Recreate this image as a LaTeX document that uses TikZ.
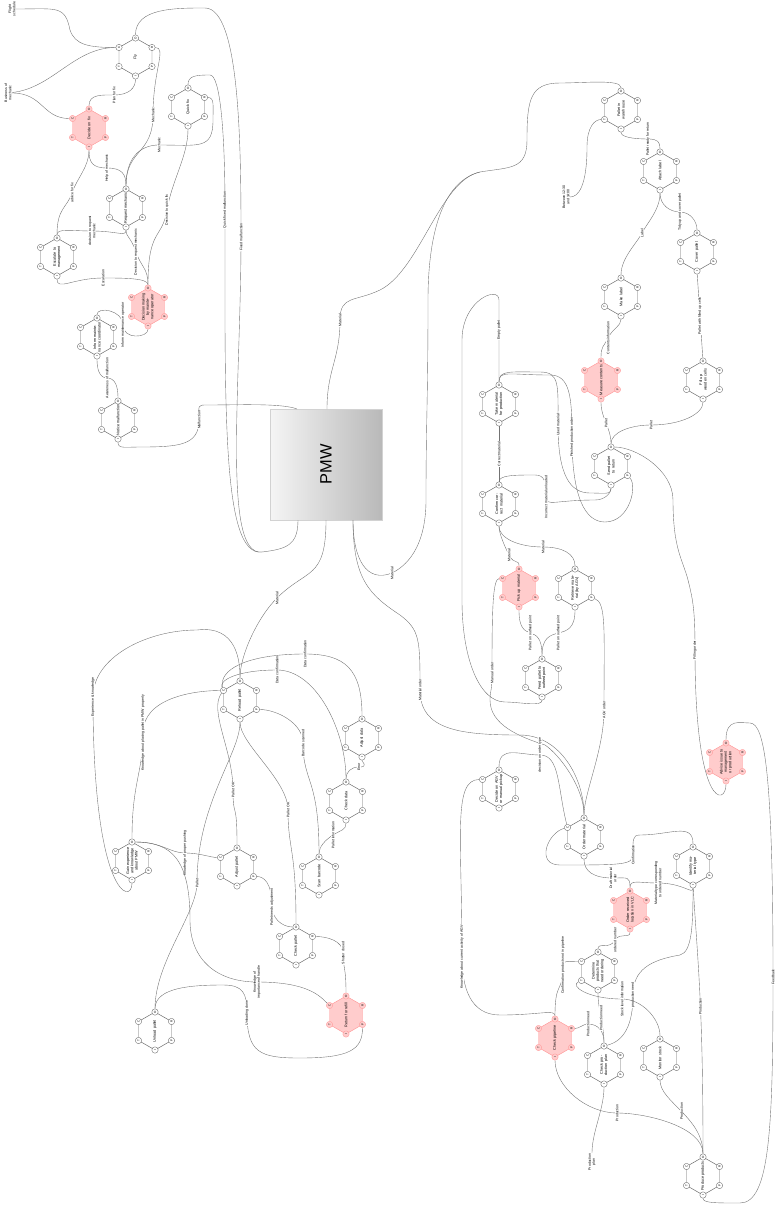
\documentclass[tikz,border=0pt]{standalone}
\usepackage{fontspec}
\setmainfont{Liberation Sans}
\usetikzlibrary{calc}

% one FRAM function: name, x, y, look, text
\newcommand{\fram}[5]{%
  \begin{scope}[shift={(#2,#3)}]
    \draw[#4, line width=0.4pt] (0,-19) -- (16.5,-9.5) -- (16.5,9.5) -- (0,19) -- (-16.5,9.5) -- (-16.5,-9.5) -- cycle;
    \node[fntxt] (#1) at (0,0) {#5};
    \node[asp,#4] (#1-O) at (0,-19) {O};
    \node[asp,#4] (#1-I) at (0,19) {I};
    \node[asp,#4] (#1-C) at (-16.5,-9.5) {C};
    \node[asp,#4] (#1-T) at (-16.5,9.5) {T};
    \node[asp,#4] (#1-R) at (16.5,-9.5) {R};
    \node[asp,#4] (#1-P) at (16.5,9.5) {P};
  \end{scope}}

\begin{document}
\begin{tikzpicture}[x=0.03cm, y=-0.03cm,
    plain/.style={draw=gray!80!black, fill=white},
    crit/.style={draw=red!40, fill=red!20},
    asp/.style={circle, line width=0.3pt, inner sep=0pt, minimum size=0.19cm, rotate=90, font=\fontsize{2.6}{2.8}\selectfont},
    fntxt/.style={rotate=90, align=center, text width=0.95cm, inner sep=0pt, font=\fontsize{3.2}{3.7}\selectfont},
    lab/.style={rotate=90, fill=white, inner sep=0.4pt, align=center, font=\fontsize{3}{3.5}\selectfont},
    freetxt/.style={rotate=90, inner sep=0.5pt, align=center, font=\fontsize{3}{3.5}\selectfont},
    flow/.style={draw=black!55, line width=0.33pt},
    pmw/.style={draw=gray!35, left color=gray!8, right color=gray!55, minimum width=3.36cm, minimum height=3.33cm}
  ]
  \useasboundingbox (0,0) rectangle (779,1207);

  \node[pmw] (pmw) at (326,464.5) {};
  \node[rotate=90, font=\fontsize{14}{16}\selectfont] at (pmw) {PMW};
  \coordinate (pmw-t1) at (297,409);
  \coordinate (pmw-t2) at (327,409);
  \coordinate (pmw-b1) at (298,520);
  \coordinate (pmw-b2) at (326,520);
  \coordinate (pmw-b3) at (353,520);

  % maintenance
  \fram{fly}{135.5}{57}{plain}{Fly}
  \fram{decide}{89}{128}{crit}{Decide on fix}
  \fram{quick}{188}{107}{plain}{Quick fix}
  \fram{request}{126}{208}{plain}{Request mechanic}
  \fram{escalate}{57}{257}{plain}{Escalate to management}
  \fram{decision}{148}{307}{crit}{Decision making by maintenance operator}
  \fram{inform}{97}{337}{plain}{Inform maintenance coordinator}
  \fram{notice}{118}{420}{plain}{Notice malfunction}

  % pallets back to the warehouse
  \fram{warehouse}{621}{110}{plain}{Pallet in warehouse}
  \fram{attach}{660}{171}{plain}{Attach label}
  \fram{cover}{697}{252}{plain}{Cover pallet}
  \fram{makelbl}{621}{297}{plain}{Make label}
  \fram{measure}{601}{380}{crit}{Measure contents}
  \fram{fillup}{703}{380}{plain}{Fill up wooden cells}
  \fram{rawmat}{499}{404}{plain}{Take material for production}
  \fram{sendpal}{611}{466}{plain}{Send pallet to return}
  \fram{confirm}{499}{504}{plain}{Confirm correct material}
  \fram{pickup}{519}{588}{crit}{Pick up material}
  \fram{retrieve}{575}{588}{plain}{Retrieve material (by AGV)}
  \fram{feed}{542}{678}{plain}{Feed pallet to outfeed point}
  \fram{advise}{726}{762}{crit}{Advise issue to management or production}

  % ordering
  \fram{decideagv}{499}{789}{plain}{Decide on AGV or manual pickup}
  \fram{order}{584}{837}{plain}{Order material}
  \fram{identify}{693}{866}{plain}{Identify material type}
  \fram{received}{630}{910}{crit}{Order received location in VLC}
  \fram{determine}{598}{971}{plain}{Determine products that need ordering}
  \fram{pipeline}{555}{1038}{crit}{Check pipeline}
  \fram{prodplan}{604}{1065}{plain}{Check production plan}
  \fram{stock}{660}{1058}{plain}{Monitor stock}
  \fram{produce}{703}{1176}{plain}{Produce products}

  % loading the PMW
  \fram{reload}{240}{700}{plain}{Reload pallet}
  \fram{adjdata}{362}{738}{plain}{Adjust data}
  \fram{chkdata}{346}{801}{plain}{Check data}
  \fram{gain}{132}{861}{plain}{Gain experience and knowledge about PMW}
  \fram{adjpal}{237}{867}{plain}{Adjust pallet}
  \fram{scan}{319}{876}{plain}{Scan barcode}
  \fram{chkpal}{296}{946}{plain}{Check pallet}
  \fram{unload}{155}{1031}{plain}{Unload pallet}
  \fram{return}{346}{1015}{crit}{Return for refill}

  % free ends
  \node[freetxt] (pilot) at (12,9) {Flight\\schedule};
  \node[freetxt] (business) at (8,93) {Business of\\mechanic};
  \node[freetxt] (between) at (566,197) {Between 12:30\\and 14:00};
  \node[freetxt] (plantxt) at (592,1162) {Production\\plan};
  \coordinate (bend) at (480,172);

  % maintenance links
  \draw[flow] (pilot) .. controls +(45,0) and +(-5,-25) .. (70,30) .. controls +(5,15) and +(-30,0) .. (fly-C);
  \draw[flow] (business) .. controls +(45,-5) and +(-45,0) .. (fly-C);
  \draw[flow] (business) .. controls +(35,0) and +(-30,0) .. (decide-C);
  \draw[flow] (decide-O) .. controls +(0,-15) and +(-12,0) .. (114,95) node[lab]{Plan for fix} .. controls +(15,0) and +(0,12) .. (fly-I);
  \draw[flow] (fly-O) .. controls +(0,-30) and +(-30,0) .. (205,8) .. controls +(35,0) and +(0,-90) .. (241,237) node[lab]{Fixed malfunction} .. controls +(0,150) and +(-40,5) .. (262,552) .. controls +(25,-3) and +(0,25) .. (pmw-b1);
  \draw[flow] (quick-O) .. controls +(0,-12) and +(-15,0) .. (210,75) .. controls +(10,0) and +(0,-80) .. (225,210) node[lab]{Quick fixed malfunction} .. controls +(0,200) and +(-40,5) .. (262,552);
  \draw[flow] (pmw-t1) .. controls +(-15,-6) and +(30,0) .. (207,405) .. controls +(-10,0) and +(0,-15) .. (199,420) node[lab]{Malfunction} .. controls +(0,25) and +(40,0) .. (140,447) .. controls +(-15,0) and +(0,10) .. (notice-I);
  \draw[flow] (request-O) .. controls +(0,-40) and +(0,40) .. (153,115) node[lab]{Mechanic} .. controls +(0,-45) and +(15,0) .. (fly-R);
  \draw[flow] (request-O) .. controls +(0,-30) and +(-20,0) .. (159,145) node[lab]{Mechanic} .. controls +(40,0) and +(0,30) .. (213,120) .. controls +(0,-15) and +(10,0) .. (quick-R);
  \draw[flow] (request-O) .. controls +(0,-15) and +(15,0) .. (107,168) node[lab]{Help of mechanic} .. controls +(-15,0) and +(0,15) .. (decide-I);
  \draw[flow] (escalate-O) .. controls +(0,-30) and +(-5,15) .. (72,193) node[lab]{advice for fix} .. controls +(5,-15) and +(0,20) .. (decide-I);
  \draw[flow] (escalate-O) .. controls +(0,-10) and +(-20,0) .. (92,231) node[lab]{decision to request\\mechanic} .. controls +(25,0) and +(0,10) .. (request-I);
  \draw[flow] (decision-O) .. controls +(0,-20) and +(5,15) .. (136,252) node[lab]{Decision to request mechanic} .. controls +(-5,-15) and +(0,10) .. (request-I);
  \draw[flow] (decision-O) .. controls +(0,-60) and +(-5,30) .. (167,210) node[lab]{Decision to quick fix} .. controls +(5,-30) and +(0,30) .. (quick-I);
  \draw[flow] (decision-O) .. controls +(0,-10) and +(20,0) .. (103,278) node[lab]{Escalation} .. controls +(-30,0) and +(0,15) .. (escalate-I);
  \draw[flow] (inform-O) .. controls +(0,-12) and +(0,-15) .. (123,325) node[lab]{Inform maintenance operator} .. controls +(0,15) and +(0,12) .. (decision-I);
  \draw[flow] (notice-O) .. controls +(0,-15) and +(8,0) .. (107,378) node[lab]{Awareness of malfunction} .. controls +(-8,0) and +(0,12) .. (inform-I);

  % warehouse links
  \draw[flow] (warehouse-O) .. controls +(0,-12) and +(25,0) .. (560,83) .. controls +(-30,0) and +(0,-40) .. (527,140) .. controls +(0,30) and +(30,-5) .. (bend);
  \draw[flow] (bend) .. controls +(-40,8) and +(40,-20) .. (380,290) .. controls +(-25,12) and +(0,-25) .. (340,320) node[lab]{Material} .. controls +(0,40) and +(0,-40) .. (pmw-t2);
  \draw[flow] (bend) .. controls +(-40,10) and +(0,-60) .. (428,300) .. controls +(0,100) and +(0,-80) .. (426,500) .. controls +(0,40) and +(20,-10) .. (392,573) node[lab]{Material} .. controls +(-25,10) and +(0,40) .. (pmw-b3);
  \draw[flow] (between) .. controls +(12,0) and +(0,40) .. (587,147) .. controls +(0,-20) and +(-10,0) .. (warehouse-T);
  \draw[flow] (attach-O) .. controls +(0,-10) and +(10,0) .. (648,139) node[lab]{Pallet ready for return} .. controls +(-15,0) and +(0,8) .. (warehouse-I);
  \draw[flow] (makelbl-O) .. controls +(0,-20) and +(-5,10) .. (642,233) node[lab]{Label} .. controls +(5,-10) and +(0,20) .. (attach-I);
  \draw[flow] (cover-O) .. controls +(0,-12) and +(10,0) .. (680,212) node[lab]{Tidy up and cover pallet} .. controls +(-10,0) and +(0,15) .. (attach-I);
  \draw[flow] (measure-O) .. controls +(0,-15) and +(-5,10) .. (608,338) node[lab]{Contents information} .. controls +(5,-10) and +(0,10) .. (makelbl-I);
  \draw[flow] (fillup-O) -- node[lab]{Pallet with filled up cells} (cover-I);
  \draw[flow] (sendpal-O) .. controls +(0,-20) and +(0,20) .. node[lab]{Pallet} (measure-I);
  \draw[flow] (sendpal-O) .. controls +(0,-15) and +(-20,0) .. (651,425) node[lab]{Pallet} .. controls +(30,0) and +(0,15) .. (fillup-I);
  \draw[flow] (sendpal-O) .. controls +(25,0) and +(0,-30) .. (673,500) .. controls +(0,50) and +(-5,-20) .. (688,580) .. controls +(5,20) and +(0,-40) .. (695,650) node[lab]{Filling order} .. controls +(0,160) and +(0,25) .. (advise-I);
  \draw[flow] (rawmat-O) -- (499,330) node[lab]{Empty pallet} -- (499,300) .. controls +(0,-15) and +(0,-40) .. (462,340) .. controls +(0,120) and +(0,-150) .. (462,600) .. controls +(0,60) and +(-25,0) .. (505,702) .. controls +(15,0) and +(0,10) .. (feed-I);
  \draw[flow] (rawmat-O) .. controls +(0,-15) and +(-30,0) .. (540,372) .. controls +(20,0) and +(0,-40) .. (558,425) node[lab]{Used material} .. controls +(0,50) and +(-20,0) .. (590,493) .. controls +(15,0) and +(0,10) .. (sendpal-I);
  \draw[flow] (rawmat-O) .. controls +(0,-15) and +(-40,0) .. (550,375) .. controls +(20,0) and +(0,-40) .. (572,437) node[lab]{Finished production order} .. controls +(0,60) and +(-20,0) .. (605,522) .. controls +(25,0) and +(10,10) .. (sendpal-P);
  \draw[flow] (confirm-O) -- node[lab]{Correct material} (rawmat-I);
  \draw[flow] (confirm-O) .. controls +(0,-10) and +(-20,0) .. (535,475) .. controls +(10,0) and +(0,-15) .. (546,497) node[lab]{Incorrect material unloaded} .. controls +(0,10) and +(-40,0) .. (595,500) .. controls +(10,0) and +(0,8) .. (sendpal-I);
  \draw[flow] (pickup-O) .. controls +(0,-10) and +(5,10) .. (509,555) node[lab]{Material} .. controls +(-5,-10) and +(0,10) .. (confirm-I);
  \draw[flow] (retrieve-O) .. controls +(0,-15) and +(20,0) .. (543,547) node[lab]{Material} .. controls +(-25,0) and +(0,15) .. (confirm-I);
  \draw[flow] (feed-O) .. controls +(0,-40) and +(0,40) .. node[lab]{Pallet on outfeed point} (pickup-I);
  \draw[flow] (feed-O) .. controls +(0,-40) and +(0,40) .. node[lab]{Pallet on outfeed point} (retrieve-I);
  \draw[flow] (advise-O) .. controls +(0,-25) and +(-10,0) .. (750,723) .. controls +(15,0) and +(0,-200) .. (773,977) node[lab]{Feedback} .. controls +(0,150) and +(30,0) .. (740,1203) .. controls +(-25,0) and +(0,8) .. (produce-I);

  % ordering links
  \draw[flow] (order-O) .. controls +(0,-30) and +(15,10) .. (545,745) .. controls +(-25,-8) and +(0,25) .. (490,700) .. controls +(0,-10) and +(0,20) .. (492,673) node[lab]{Manual order} .. controls +(0,-60) and +(-10,0) .. (pickup-C);
  \draw[flow] (order-O) .. controls +(0,-25) and +(0,40) .. (604,710) node[lab]{AGV order} .. controls +(0,-80) and +(15,5) .. (retrieve-P);
  \draw[flow] (pmw-b3) .. controls +(0,60) and +(-30,-20) .. (400,615) .. controls +(20,15) and +(0,-50) .. (420,690) node[lab]{Material order} .. controls +(0,40) and +(-60,0) .. (520,735) .. controls +(40,0) and +(0,-40) .. (order-O);
  \draw[flow] (decideagv-O) .. controls +(0,-25) and +(-20,0) .. (540,755) node[lab]{decision on order type} .. controls +(20,0) and +(-10,-40) .. (order-C);
  \draw[flow] (received-O) .. controls +(0,-15) and +(15,0) .. (613,878) node[lab]{Draft material\\order} .. controls +(-20,0) and +(0,15) .. (order-I);
  \draw[flow] (identify-O) .. controls +(0,-25) and +(30,0) .. (640,835) .. controls +(-8,0) and +(0,-15) .. (633,855) node[lab]{Confirmation} .. controls +(0,10) and +(60,0) .. (560,865) .. controls +(-25,0) and +(-20,5) .. (order-C);
  \draw[flow] (pipeline-O) .. controls +(0,-10) and +(40,0) .. (500,1015) .. controls +(-30,0) and +(0,30) .. (462,957) node[lab]{Knowledge about current activity of AGV} .. controls +(0,-120) and +(-30,0) .. (decideagv-C);
  \draw[flow] (received-O) .. controls +(0,-12) and +(-20,0) .. (658,883) node[lab]{Material type corresponding\\to ordered number} .. controls +(25,0) and +(0,10) .. (identify-I);
  \draw[flow] (determine-O) .. controls +(0,-10) and +(-5,10) .. (615,940) node[lab]{ordered number} .. controls +(5,-8) and +(0,10) .. (received-I);
  \draw[flow] (pipeline-O) .. controls +(0,-40) and +(0,30) .. (563,965) node[lab]{Confirmation products not in pipeline} .. controls +(0,-5) and +(-12,0) .. (determine-C);
  \draw[flow] (prodplan-O) .. controls +(0,-15) and +(10,0) .. (588,1024) node[lab]{Production need} .. controls +(-5,0) and +(8,0) .. (pipeline-R);
  \draw[flow] (prodplan-O) .. controls +(0,-20) and +(0,20) .. node[lab]{Production need} (determine-I);
  \draw[flow] (prodplan-O) .. controls +(20,-5) and +(0,30) .. (633,995) node[lab]{production need} .. controls +(0,-25) and +(-30,5) .. (680,955) .. controls +(12,-3) and +(0,40) .. (identify-I);
  \draw[flow] (stock-O) .. controls +(0,-20) and +(20,0) .. (622,999) node[lab]{Stock level information} .. controls +(-35,0) and +(-12,5) .. (determine-T);
  \draw[flow] (produce-O) .. controls +(0,-30) and +(30,0) .. (617,1113) node[lab]{Production} .. controls +(-30,0) and +(0,30) .. (pipeline-I);
  \draw[flow] (produce-O) .. controls +(0,-40) and +(0,25) .. node[lab]{Production} (stock-I);
  \draw[flow] (produce-O) .. controls +(0,-150) and +(5,80) .. node[lab, pos=0.45]{Production} (identify-I);
  \draw[flow] (plantxt) .. controls +(0,-30) and +(0,25) .. (prodplan-I);

  % PMW loading links
  \draw[flow] (reload-O) .. controls +(0,-25) and +(-20,20) .. (277,598) node[lab]{Material} .. controls +(30,-30) and +(0,60) .. (pmw-b2);
  \draw[flow] (reload-O) .. controls +(0,-20) and +(40,-5) .. (197,630) .. controls +(-50,0) and +(0,-40) .. (93,697) node[lab]{Experience \& knowledge} .. controls +(0,200) and +(0,25) .. (gain-I);
  \draw[flow] (gain-O) .. controls +(0,-60) and +(0,40) .. (143,733) node[lab]{Knowledge about placing pallet in PMW properly} .. controls +(0,-35) and +(-30,0) .. (reload-C);
  \draw[flow] (chkdata-O) .. controls +(0,-50) and +(40,0) .. (277,670) node[lab]{Data confirmation} .. controls +(-40,0) and +(-5,-10) .. (reload-C);
  \draw[flow] (adjdata-O) .. controls +(0,-50) and +(40,0) .. (305,654) node[lab]{Data confirmation} .. controls +(-60,0) and +(-5,-20) .. (reload-C);
  \draw[flow] (scan-O) .. controls +(0,-80) and +(0,40) .. (303,743) node[lab]{Barcode scanned} .. controls +(0,-20) and +(20,0) .. (reload-P);
  \draw[flow] (chkdata-O) .. controls +(0,-10) and +(-8,0) .. (359,767) node[lab]{Error} .. controls +(10,0) and +(0,5) .. (adjdata-I);
  \draw[flow] (scan-O) .. controls +(0,-10) and +(-8,5) .. (333,835) node[lab]{Pallet information} .. controls +(8,-5) and +(0,10) .. (chkdata-I);
  \draw[flow] (adjpal-O) .. controls +(0,-50) and +(0,30) .. (233,790) node[lab]{Pallet OK} .. controls +(0,-40) and +(-15,20) .. (reload-C);
  \draw[flow] (chkpal-O) .. controls +(0,-80) and +(0,40) .. (288,810) node[lab]{Pallet OK} .. controls +(0,-30) and +(0,25) .. (reload-I);
  \draw[flow] (unload-O) .. controls +(0,-50) and +(0,30) .. (197,883) node[lab]{Pallet} .. controls +(0,-80) and +(0,35) .. (reload-I);
  \draw[flow] (gain-O) .. controls +(30,0) and +(-15,0) .. (185,853) node[lab]{Knowledge of proper pushing} .. controls +(15,0) and +(-10,0) .. (adjpal-C);
  \draw[flow] (gain-O) .. controls +(40,0) and +(0,-60) .. (190,920) .. controls +(0,40) and +(-40,0) .. (257,982) node[lab]{Knowledge of\\importance of handle} .. controls +(50,0) and +(-10,-10) .. (return-C);
  \draw[flow] (chkpal-O) .. controls +(-15,0) and +(0,10) .. (272,907) node[lab]{Pallet needs adjustment} .. controls +(0,-25) and +(10,0) .. (adjpal-P);
  \draw[flow] (return-O) .. controls +(0,-30) and +(0,15) .. (343,953) node[lab]{Shutter closed} .. controls +(0,-12) and +(15,0) .. (chkpal-R);
  \draw[flow] (unload-O) .. controls +(0,-25) and +(-30,0) .. (223,985) .. controls +(20,0) and +(0,-20) .. (247,1013) node[lab]{Unloading done} .. controls +(0,40) and +(-40,0) .. (300,1058) .. controls +(50,0) and +(0,25) .. (return-P);
\end{tikzpicture}
\end{document}
